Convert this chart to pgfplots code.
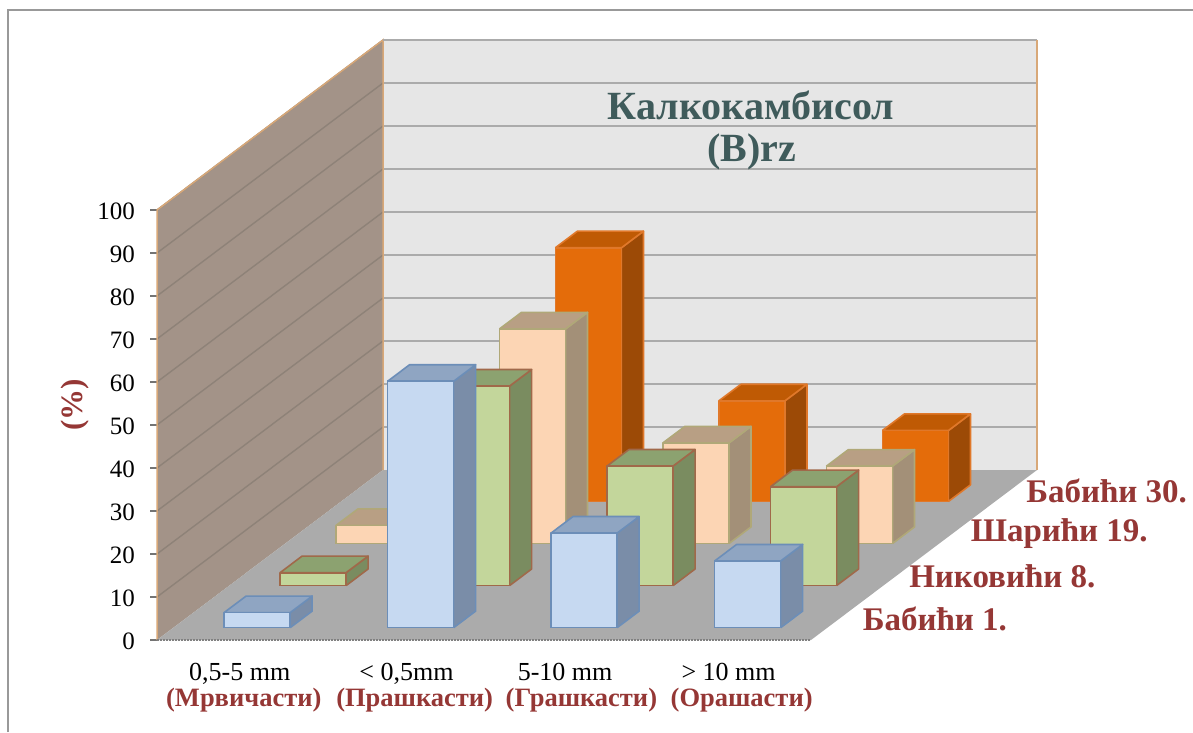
\documentclass[border=0pt]{standalone}
\usepackage{pgfplots}
\pgfplotsset{compat=1.18}
\usepackage{fontspec}
\setmainfont{Liberation Serif}
\definecolor{wallL}{HTML}{A39388}
\definecolor{wallB}{HTML}{E6E6E6}
\definecolor{floorC}{HTML}{ABABAB}
\definecolor{wallEdge}{HTML}{D8A878}
\definecolor{gridL}{HTML}{8E8278}
\definecolor{gridB}{HTML}{ABABAB}
\definecolor{redT}{HTML}{953735}
\definecolor{titleC}{HTML}{3F5B5B}
\definecolor{blF}{HTML}{C6D9F1}\definecolor{blT}{HTML}{8FA5C2}\definecolor{blS}{HTML}{7A8DA8}\definecolor{blE}{HTML}{6C8EB8}
\definecolor{grF}{HTML}{C3D69B}\definecolor{grT}{HTML}{8CA270}\definecolor{grS}{HTML}{7A8C60}\definecolor{grE}{HTML}{A0694A}
\definecolor{peF}{HTML}{FCD5B4}\definecolor{peT}{HTML}{B89F84}\definecolor{peS}{HTML}{A39078}\definecolor{peE}{HTML}{B0A878}
\definecolor{orF}{HTML}{E46C0A}\definecolor{orT}{HTML}{BF5A04}\definecolor{orS}{HTML}{9C4A06}\definecolor{orE}{HTML}{E0782A}
% one bar: category, row, value, colour prefix
\newcommand{\Bar}[4]{%
  \pgfmathsetmacro\xa{#1+0.31}\pgfmathsetmacro\xb{#1+0.714}%
  \pgfmathsetmacro\ya{#2*0.99+0.29}\pgfmathsetmacro\yb{#2*0.99+0.68}%
  \edef\temp{%
  \noexpand\addplot3[fill=#4S,draw=#4E,line width=1.6pt,line join=round,forget plot] coordinates {(\xb,\ya,0)(\xb,\yb,0)(\xb,\yb,#3)(\xb,\ya,#3)(\xb,\ya,0)};
  \noexpand\addplot3[fill=#4T,draw=#4E,line width=1.6pt,line join=round,forget plot] coordinates {(\xa,\ya,#3)(\xb,\ya,#3)(\xb,\yb,#3)(\xa,\yb,#3)(\xa,\ya,#3)};
  \noexpand\addplot3[fill=#4F,draw=#4E,line width=1.6pt,line join=round,forget plot] coordinates {(\xa,\ya,0)(\xb,\ya,0)(\xb,\ya,#3)(\xa,\ya,#3)(\xa,\ya,0)};
  }\temp}
\newcommand{\GridZ}[1]{%
  \addplot3[draw=black!55,line width=1.3pt,forget plot] coordinates {(-0.04,0,#1)(0,0,#1)};
  \addplot3[draw=gridL,line width=1.4pt,forget plot] coordinates {(0,0,#1)(0,4,#1)};
  \addplot3[draw=gridB,line width=1.8pt,forget plot] coordinates {(0,4,#1)(4,4,#1)};}
\begin{document}
\begin{tikzpicture}[x=1pt,y=1pt]
\useasboundingbox (0,0) rectangle (1193,732);
\draw[gray!80,line width=1.4pt] (8,0) -- (8,722) -- (1193,722);
\begin{axis}[
  at={(157pt,92pt)},anchor=origin,
  x={(163.5pt,0pt)},y={(56.5pt,42.5pt)},z={(0pt,4.3pt)},
  xmin=0,xmax=4,ymin=0,ymax=4,zmin=0,zmax=100,
  clip=false,
  axis line style={draw=none},
  ztick={0,10,...,100},
  xtick={0.54,1.56,2.53,3.53},
  xticklabels={{0,5-5 mm},{< 0,5mm},{5-10 mm},{> 10 mm}},
  extra x ticks={0.565,1.61,2.63,3.61},
  extra x tick labels={(Мрвичасти),(Прашкасти),(Грашкасти),(Орашасти)},
  extra x tick style={xticklabel style={yshift=-26pt,font=\fontsize{26.5}{26.5}\selectfont\bfseries,text=redT}},
  ytick={0.5,1.5,2.5,3.5},
  yticklabels={Бабићи 1.,\hspace*{-10pt}Никовићи 8.,\hspace*{-5pt}Шарићи 19.,\hspace*{-6pt}Бабићи 30.},
  xtick style={draw=none},ytick style={draw=none},ztick style={draw=none},
  tick align=outside,
  major tick length=7pt,
  /pgf/number format/assume math mode=true,
  xticklabel style={font=\fontsize{26}{26}\selectfont,anchor=base,yshift=-36pt},
  yticklabel style={font=\fontsize{33}{33}\selectfont\bfseries,text=redT,anchor=west,xshift=13pt},
  zticklabel style={font=\fontsize{25}{25}\selectfont,anchor=east,xshift=-13pt,yshift=3pt},
]
% walls and floor
\addplot3[fill=wallL,draw=none,forget plot] coordinates {(0,0,0)(0,4,0)(0,4,100)(0,0,100)(0,0,0)};
\addplot3[fill=wallB,draw=none,forget plot] coordinates {(0,4,0)(4,4,0)(4,4,100)(0,4,100)(0,4,0)};
\addplot3[fill=floorC,draw=none,forget plot] coordinates {(0,0,0)(4,0,0)(4,4,0)(0,4,0)(0,0,0)};
\GridZ{10}\GridZ{20}\GridZ{30}\GridZ{40}\GridZ{50}\GridZ{60}\GridZ{70}\GridZ{80}\GridZ{90}\GridZ{100}
\addplot3[draw=black!55,line width=1.3pt,forget plot] coordinates {(-0.04,0,0)(0,0,0)};
\addplot3[draw=wallEdge,line width=1.5pt,forget plot] coordinates {(0,0,0)(0,0,100)(0,4,100)(0,4,0)};
\addplot3[draw=wallEdge,line width=1.5pt,forget plot] coordinates {(4,4,100)(4,4,0)};
\addplot3[draw=gridB,line width=2pt,densely dotted,forget plot] coordinates {(0,4,100)(4,4,100)};
\addplot3[draw=gray,line width=2pt,densely dotted,forget plot] coordinates {(0,0,0)(4,0,0)};
% bars: back row first
\Bar{0}{3}{3}{or}\Bar{1}{3}{59}{or}\Bar{2}{3}{23.4}{or}\Bar{3}{3}{16.5}{or}
\Bar{0}{2}{4.2}{pe}\Bar{1}{2}{49.9}{pe}\Bar{2}{2}{23.4}{pe}\Bar{3}{2}{18}{pe}
\Bar{0}{1}{3}{gr}\Bar{1}{1}{46.4}{gr}\Bar{2}{1}{27.8}{gr}\Bar{3}{1}{23}{gr}
\Bar{0}{0}{3.5}{bl}\Bar{1}{0}{57.3}{bl}\Bar{2}{0}{22}{bl}\Bar{3}{0}{15.5}{bl}
\end{axis}
\node[text=titleC,font=\fontsize{40}{40}\selectfont\bfseries] at (751,627) {Калкокамбисол};
\node[text=titleC,font=\fontsize{40}{40}\selectfont\bfseries] at (752,580) {(B)rz};
\node[text=redT,font=\fontsize{31}{31}\selectfont\bfseries,rotate=90] at (75,327) {(\%)};
\end{tikzpicture}
\end{document}
